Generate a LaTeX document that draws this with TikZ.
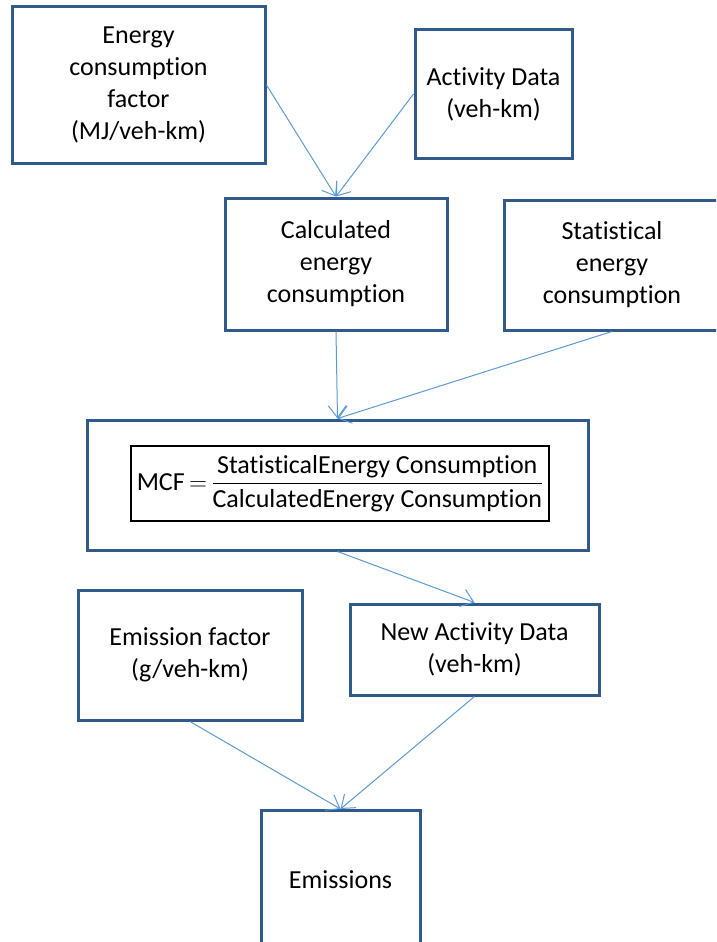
\documentclass[tikz,border=0pt]{standalone}
\usepackage{fontspec}
\setmainfont{Carlito}[Ligatures=CommonOff]
\usepackage{amsmath}
\usetikzlibrary{arrows.meta}
\definecolor{boxblue}{HTML}{2F5A8A}
\definecolor{arrblue}{HTML}{5B9BD5}
\tikzset{
  box/.style={draw=boxblue, line width=3pt, fill=white, align=center, inner sep=0pt,
    font=\fontsize{26}{32}\selectfont, text=black},
  fbox/.style={draw=black, line width=1.3pt, inner sep=0pt, align=center,
    font=\fontsize{26}{30}\selectfont},
  conn/.style={draw=arrblue, line width=1pt, -{Straight Barb[length=12pt,width=18pt,line width=1pt]}}
}
\begin{document}
\begin{tikzpicture}[x=1pt,y=-1pt]
\clip (0,0) rectangle (716,942);
\fill[white] (0,0) rectangle (716,942);
\node[box, minimum width=253, minimum height=156] (ecf) at (138.5,85) {Energy\\consumption\\factor\\(MJ/veh-km)};
\node[box, minimum width=157, minimum height=128] (act) at (493.5,94) {Activity Data\\(veh-km)};
\node[box, minimum width=222, minimum height=132] (calc) at (336,264) {Calculated\\energy\\consumption};
\node[box, minimum width=216, minimum height=130] (stat) at (612,265) {Statistical\\energy\\consumption};
\node[box, minimum width=501, minimum height=130] (mcf) at (337.5,485) {};
\node[fbox, minimum width=418, minimum height=75] (form) at (340,483.5)
  {MCF\,$=$\,$\dfrac{\text{StatisticalEnergy Consumption}}{\text{CalculatedEnergy Consumption}}$};
\node[box, minimum width=224, minimum height=130] (emf) at (190,655) {Emission factor\\(g/veh-km)};
\node[box, minimum width=249, minimum height=91] (newact) at (474.5,649.5) {New Activity Data\\(veh-km)};
\node[box, minimum width=159, minimum height=139] (emis) at (340.5,880) {Emissions};
\draw[conn] (ecf.east) -- (calc.north);
\draw[conn] (act.west) -- (calc.north);
\draw[conn] (calc.south) -- (mcf.north);
\draw[conn] (stat.south) -- (mcf.north);
\draw[conn] (mcf.south) -- (newact.north);
\draw[conn] (emf.south) -- (emis.north);
\draw[conn] (newact.south) -- (emis.north);
\end{tikzpicture}
\end{document}
